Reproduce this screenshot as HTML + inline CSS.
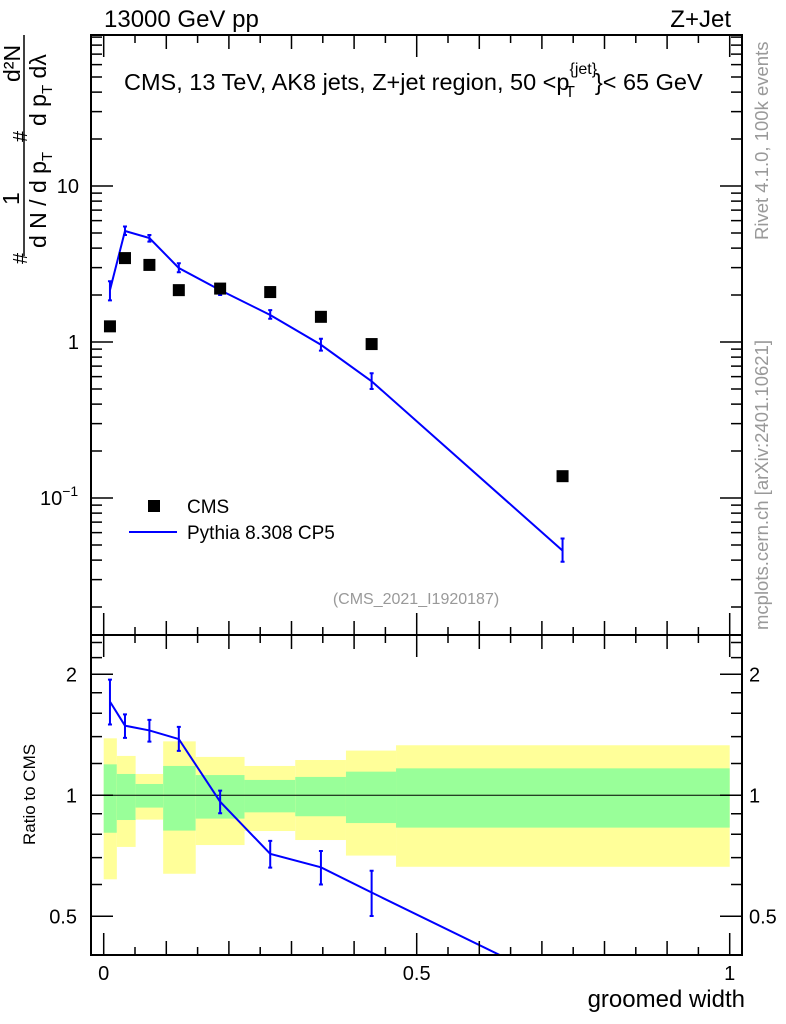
<!DOCTYPE html>
<html><head><meta charset="utf-8"><style>
html,body{margin:0;padding:0;background:#fff;}
svg{display:block;font-family:"Liberation Sans",sans-serif;}
</style></head><body>
<svg id="chart" width="786" height="1024" viewBox="0 0 786 1024" xmlns="http://www.w3.org/2000/svg">
<defs>
<clipPath id="mainclip"><rect x="91" y="35" width="651" height="600"/></clipPath>
<clipPath id="ratioclip"><rect x="91" y="635" width="651" height="320"/></clipPath>
</defs>
<g id="bands" clip-path="url(#ratioclip)"></g>
<g id="marks"></g>
<text x="104" y="27" font-size="24">13000 GeV pp</text>
<text x="731" y="27" font-size="24" text-anchor="end">Z+Jet</text>
<text x="124" y="90" font-size="23.5">CMS, 13 TeV, AK8 jets, Z+jet region, 50 &lt;p<tspan font-size="16" dy="-16">{jet}</tspan><tspan font-size="16" dx="-32" dy="23">T</tspan><tspan dy="-7" dx="20">}&lt; 65 GeV</tspan></text>
<text x="416" y="604" font-size="16" fill="#999" text-anchor="middle">(CMS_2021_I1920187)</text>
<rect x="148" y="500" width="12" height="12" fill="#000"/>
<text x="187" y="513" font-size="19">CMS</text>
<line x1="129" y1="532" x2="177" y2="532" stroke="#0000ff" stroke-width="2"/>
<text x="187" y="539" font-size="19">Pythia 8.308 CP5</text>
<text transform="translate(768,240) rotate(-90)" font-size="18.5" fill="#999">Rivet 4.1.0,  100k events</text>
<text transform="translate(768,630) rotate(-90)" font-size="18.5" fill="#999">mcplots.cern.ch [arXiv:2401.10621]</text>
<g font-size="23">
<line x1="24" y1="256" x2="24" y2="35" stroke="#000" stroke-width="1.5"/>
<text transform="translate(27,264) rotate(-90)" font-size="20">#</text>
<text transform="translate(19,205) rotate(-90)">1</text>
<text transform="translate(46,248) rotate(-90)">d N / d p<tspan font-size="15" dy="6">T</tspan></text>
<text transform="translate(27,142) rotate(-90)" font-size="20">#</text>
<text transform="translate(46,126) rotate(-90)">d p<tspan font-size="15" dy="6">T</tspan><tspan dy="-6">  d</tspan>λ</text>
<text transform="translate(20,82) rotate(-90)">d²N</text>
</g>
<text transform="translate(35,845) rotate(-90)" font-size="17">Ratio to CMS</text>
<text x="745" y="1007" font-size="24" text-anchor="end">groomed width</text>
</svg>
<script>
const binEdges=[0,0.021,0.051,0.095,0.147,0.225,0.306,0.387,0.467,1.0];
const xCenters=[0.01,0.034,0.073,0.12,0.186,0.266,0.347,0.428,0.733];
const cmsValues=[1.26,3.45,3.12,2.15,2.2,2.09,1.45,0.97,0.138];
const pythiaValues=[2.15,5.15,4.64,2.98,2.15,1.49,0.96,0.56,0.046];
const pythiaErrLo=[1.85,4.85,4.4,2.8,2.0,1.41,0.88,0.5,0.039];
const pythiaErrHi=[2.45,5.5,4.85,3.2,2.3,1.6,1.05,0.63,0.055];
const ratioValues=[1.71,1.49,1.45,1.38,0.964,0.715,0.662,0.573,0.336];
const ratioErrLo=[1.50,1.39,1.36,1.29,0.902,0.661,0.60,0.501,0.29];
const ratioErrHi=[1.94,1.59,1.54,1.48,1.027,0.77,0.727,0.649,0.39];
const yellowHi=[1.386,1.253,1.130,1.362,1.246,1.183,1.224,1.292,1.332];
const yellowLo=[0.618,0.744,0.870,0.638,0.752,0.815,0.774,0.708,0.664];
const greenHi=[1.194,1.130,1.067,1.183,1.123,1.092,1.111,1.145,1.167];
const greenLo=[0.807,0.868,0.932,0.817,0.875,0.907,0.887,0.853,0.831];
const mainYTicks=[0.1,1,10];
const mainYTickLabels=["10","1","10"];
const ratioYTicks=[0.5,1,2];
const ratioYTickLabels=["0.5","1","2"];
const xTicks=[0,0.5,1];
const xTickLabels=["0","0.5","1"];

const NS="http://www.w3.org/2000/svg";
const L=91,R=742,T=35,M=635,B=955;
const X=v=>103.7+v*626;
const Y=v=>342-Math.log10(v)*156;
const YR=v=>795.3-Math.log2(v)*121;
const svg=document.getElementById('chart');
const bands=document.getElementById('bands');
const marks=document.getElementById('marks');
function mk(tag,attrs,parent){const e=document.createElementNS(NS,tag);for(const k in attrs)e.setAttribute(k,attrs[k]);(parent||marks).appendChild(e);return e;}

for(let i=0;i<binEdges.length-1;i++){
  const x0=X(binEdges[i]),x1=X(binEdges[i+1]);
  const y=mk('rect',{x:x0,y:YR(yellowHi[i]),width:x1-x0,height:YR(yellowLo[i])-YR(yellowHi[i]),fill:'#ffff99'},bands);
  
  
  const g=mk('rect',{x:x0,y:YR(greenHi[i]),width:x1-x0,height:YR(greenLo[i])-YR(greenHi[i]),fill:'#99ff99'},bands);
  
  
}
const unity=mk('line',{x1:L,x2:R,y1:YR(1),y2:YR(1),stroke:'#000','stroke-width':1});



const mg=mk('g',{'clip-path':'url(#mainclip)'});
const pl=mk('polyline',{points:xCenters.map((x,i)=>X(x)+','+Y(pythiaValues[i])).join(' '),fill:'none',stroke:'#0000ff','stroke-width':2},mg);


xCenters.forEach((x,i)=>{
  const e=mk('path',{d:`M${X(x)},${Y(pythiaErrLo[i])}V${Y(pythiaErrHi[i])}M${X(x)-2},${Y(pythiaErrLo[i])}h4M${X(x)-2},${Y(pythiaErrHi[i])}h4`,stroke:'#0000ff','stroke-width':2,fill:'none'},mg);
  
  
  const s=mk('rect',{x:X(x)-6,y:Y(cmsValues[i])-6,width:12,height:12,fill:'#000'},mg);
  
  
});
const rg=mk('g',{'clip-path':'url(#ratioclip)'});
const rl=mk('polyline',{points:xCenters.map((x,i)=>X(x)+','+YR(ratioValues[i])).join(' '),fill:'none',stroke:'#0000ff','stroke-width':2},rg);


xCenters.forEach((x,i)=>{
  const e=mk('path',{d:`M${X(x)},${YR(ratioErrLo[i])}V${YR(ratioErrHi[i])}M${X(x)-2},${YR(ratioErrLo[i])}h4M${X(x)-2},${YR(ratioErrHi[i])}h4`,stroke:'#0000ff','stroke-width':2,fill:'none'},rg);
  
  
});

const f1=mk('rect',{x:L,y:T,width:R-L,height:M-T,fill:'none',stroke:'#000','stroke-width':2});


const f2=mk('rect',{x:L,y:M,width:R-L,height:B-M,fill:'none',stroke:'#000','stroke-width':2});



let d='';
for(let k=0;k<=20;k++){const v=k*0.05,x=X(v);const len=(k%10==0)?22:(k%2==0?14:8);
  for(const [yb,yt] of [[M,T],[B,M]]){d+=`M${x},${yb}v${-len}M${x},${yt}v${len}`;}}
for(let e=-2;e<=1;e++)for(let m=1;m<=9;m++){const v=m*Math.pow(10,e),y=Y(v);if(y<T||y>M)continue;const len=m==1?22:11;d+=`M${L},${y}h${len}M${R},${y}h${-len}`;}
[0.4,0.5,0.6,0.7,0.8,0.9,1,1.2,1.4,1.6,1.8,2,2.2,2.4].forEach(v=>{const y=YR(v);if(y<M||y>B)return;const len=(v==0.5||v==1||v==2)?22:11;d+=`M${L},${y}h${len}M${R},${y}h${-len}`;});
const tk=mk('path',{d:d,stroke:'#000','stroke-width':1.5,fill:'none'});



mainYTicks.forEach((v,i)=>{
  const t=mk('text',{x:v==0.1?61:79,y:Y(v)+7,'font-size':20,'text-anchor':v==0.1?'start':'end'});
  t.textContent=mainYTickLabels[i];
  if(v==0.1){const sup=document.createElementNS(NS,'tspan');sup.setAttribute('font-size','14');sup.setAttribute('dy','-9');sup.textContent='−1';t.appendChild(sup);t.setAttribute('x','40');}
  
  
});
ratioYTicks.forEach((v,i)=>{
  const t=mk('text',{x:77,y:YR(v)+7,'font-size':20,'text-anchor':'end'});
  t.textContent=ratioYTickLabels[i];
  
  
  const t2=mk('text',{x:749,y:YR(v)+7,'font-size':20});
  t2.textContent=ratioYTickLabels[i];
  
  
});
xTicks.forEach((v,i)=>{
  const t=mk('text',{x:X(v),y:980,'font-size':20,'text-anchor':'middle'});
  t.textContent=xTickLabels[i];
  
  
});
</script>
</body></html>
